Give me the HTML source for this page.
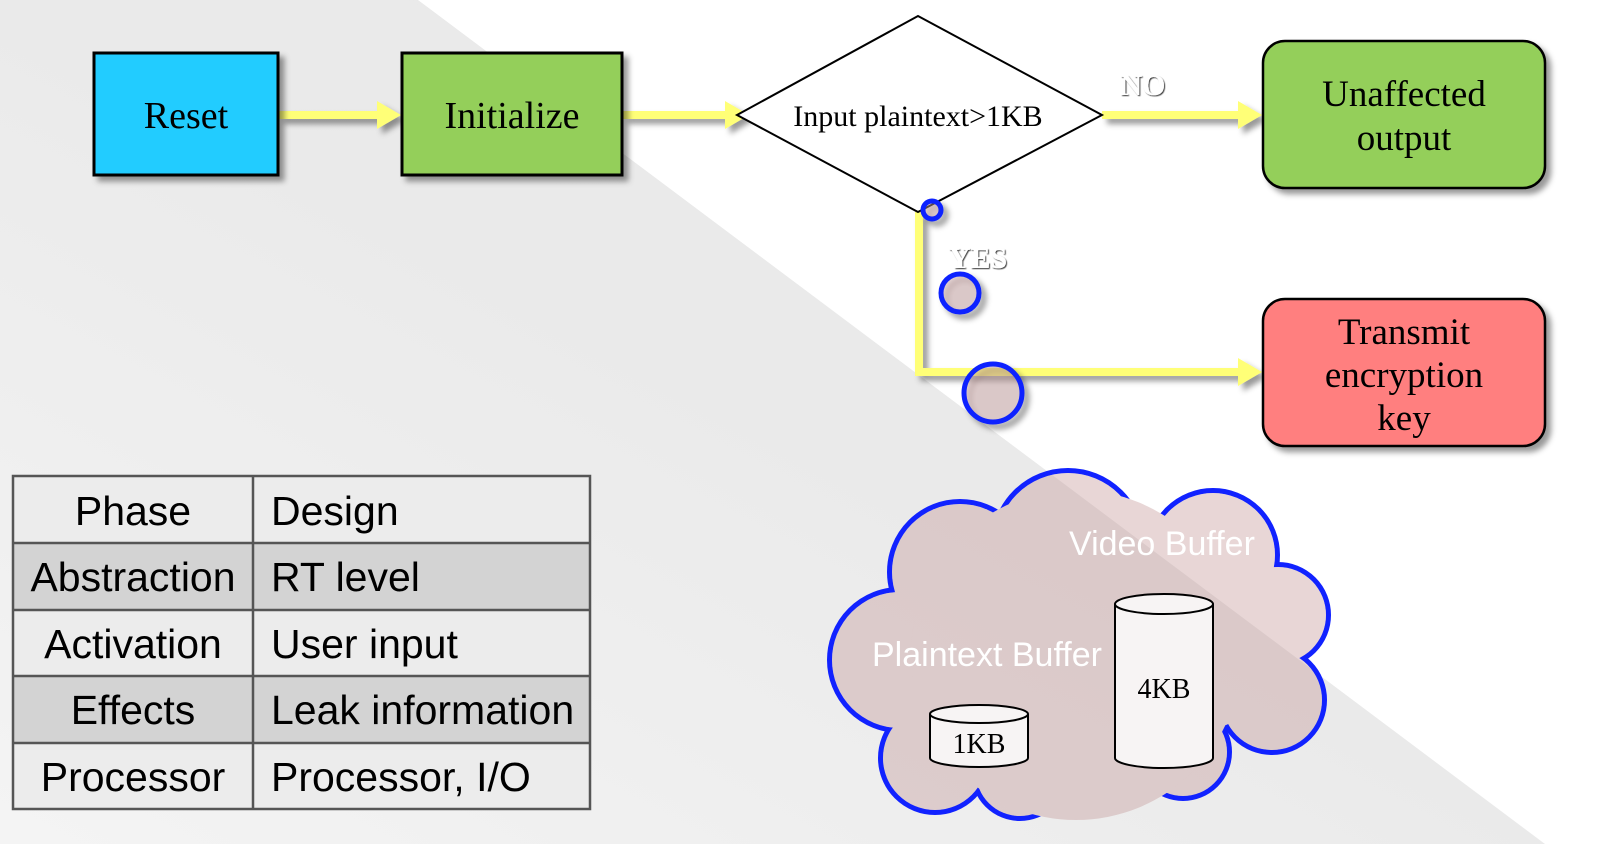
<!DOCTYPE html>
<html><head><meta charset="utf-8"><style>
html,body{margin:0;padding:0;width:1600px;height:844px;overflow:hidden;background:#fff}
svg{display:block}
.serif{font-family:"Liberation Serif",serif}
.sans{font-family:"Liberation Sans",sans-serif}
</style></head><body>
<svg width="1600" height="844" viewBox="0 0 1600 844" xmlns="http://www.w3.org/2000/svg">
<defs>
<linearGradient id="bg" x1="0" y1="1" x2="1" y2="0">
<stop offset="0" stop-color="#f4f4f4"/><stop offset="0.5" stop-color="#eaeaea"/><stop offset="1" stop-color="#e8e8e8"/>
</linearGradient>
<filter id="sh" x="-20%" y="-20%" width="140%" height="140%"><feDropShadow dx="5" dy="5" stdDeviation="3" flood-color="#000" flood-opacity="0.4"/></filter>
<filter id="ts"><feDropShadow dx="1" dy="1" stdDeviation="0.6" flood-color="#000" flood-opacity="0.8"/></filter>
<mask id="outside">
<rect width="1600" height="844" fill="#fff"/>
<g fill="#000">
<circle cx="960" cy="572" r="68"/><circle cx="1068" cy="545" r="72"/><circle cx="1213" cy="555" r="62"/>
<circle cx="1278" cy="615" r="48"/><circle cx="1272" cy="700" r="50"/><circle cx="1183" cy="752" r="44"/>
<circle cx="1100" cy="770" r="38"/><circle cx="1020" cy="772" r="44"/><circle cx="935" cy="758" r="52"/>
<circle cx="900" cy="660" r="68"/><circle cx="1076" cy="655" r="165"/><circle cx="1200" cy="660" r="70"/>
</g></mask>
</defs>
<rect width="1600" height="844" fill="url(#bg)"/>
<polygon points="418,0 1600,0 1600,844 1545,844" fill="#fff"/>
<g fill="#ffff77" filter="url(#sh)">
<rect x="279" y="111" width="100" height="8"/><polygon points="377,101 401,115 377,129"/>
<rect x="623" y="111" width="104" height="8"/><polygon points="725,101 749,115 725,129"/>
<rect x="1102" y="111" width="138" height="8"/><polygon points="1238,101 1262,115 1238,129"/>
<rect x="915" y="212" width="8" height="164"/>
<rect x="915" y="368" width="325" height="8"/><polygon points="1238,358 1262,372 1238,386"/>
</g>
<rect x="94" y="53" width="184" height="122" fill="#22ccff" stroke="#000" stroke-width="3" filter="url(#sh)"/>
<text x="186" y="128" class="serif" font-size="38" text-anchor="middle">Reset</text>
<rect x="402" y="53" width="220" height="122" fill="#94cf5a" stroke="#000" stroke-width="3" filter="url(#sh)"/>
<text x="512" y="128" class="serif" font-size="38" text-anchor="middle">Initialize</text>
<polygon points="737,115 918,16 1102,115 918,212" fill="#fff" stroke="#000" stroke-width="2"/>
<text x="918" y="126" class="serif" font-size="30" text-anchor="middle">Input plaintext&gt;1KB</text>
<text x="1143" y="95" class="serif" font-size="30" font-weight="bold" fill="#fff" text-anchor="middle" filter="url(#ts)">NO</text>
<text x="978" y="268" class="serif" font-size="30" font-weight="bold" fill="#fff" text-anchor="middle" filter="url(#ts)">YES</text>
<rect x="1263" y="41" width="282" height="147" rx="22" fill="#94cf5a" stroke="#000" stroke-width="2.5" filter="url(#sh)"/>
<text x="1404" y="106" class="serif" font-size="37" text-anchor="middle">Unaffected</text>
<text x="1404" y="150" class="serif" font-size="37" text-anchor="middle">output</text>
<rect x="1263" y="299" width="282" height="147" rx="22" fill="#ff7f7f" stroke="#000" stroke-width="2.5" filter="url(#sh)"/>
<text x="1404" y="344" class="serif" font-size="37" text-anchor="middle">Transmit</text>
<text x="1404" y="387" class="serif" font-size="37" text-anchor="middle">encryption</text>
<text x="1404" y="430" class="serif" font-size="37" text-anchor="middle">key</text>
<g fill="rgba(200,160,160,0.4)" stroke="#1122ff" stroke-width="5" filter="url(#sh)">
<circle cx="932" cy="210" r="9"/><circle cx="960" cy="293" r="19"/><circle cx="993" cy="393" r="29"/>
</g>
<g class="sans" font-size="41">
<rect x="13" y="476" width="577" height="67" fill="#ececec"/>
<rect x="13" y="543" width="577" height="67" fill="#d3d3d3"/>
<rect x="13" y="610" width="577" height="66" fill="#ececec"/>
<rect x="13" y="676" width="577" height="67" fill="#d3d3d3"/>
<rect x="13" y="743" width="577" height="66" fill="#ececec"/>
<g stroke="#555" stroke-width="2.5" fill="none">
<rect x="13" y="476" width="577" height="333"/>
<line x1="253" y1="476" x2="253" y2="809"/>
<line x1="13" y1="543" x2="590" y2="543"/><line x1="13" y1="610" x2="590" y2="610"/>
<line x1="13" y1="676" x2="590" y2="676"/><line x1="13" y1="743" x2="590" y2="743"/>
</g>
<g text-anchor="middle">
<text x="133" y="525">Phase</text><text x="133" y="591">Abstraction</text><text x="133" y="658">Activation</text>
<text x="133" y="724">Effects</text><text x="133" y="791">Processor</text>
</g>
<text x="271" y="525">Design</text><text x="271" y="591">RT level</text><text x="271" y="658">User input</text>
<text x="271" y="724">Leak information</text><text x="271" y="791">Processor, I/O</text>
</g>
<g mask="url(#outside)" fill="none" stroke="#1122ff" stroke-width="10">
<circle cx="960" cy="572" r="68"/><circle cx="1068" cy="545" r="72"/><circle cx="1213" cy="555" r="62"/>
<circle cx="1278" cy="615" r="48"/><circle cx="1272" cy="700" r="50"/><circle cx="1183" cy="752" r="44"/>
<circle cx="1100" cy="770" r="38"/><circle cx="1020" cy="772" r="44"/><circle cx="935" cy="758" r="52"/>
<circle cx="900" cy="660" r="68"/>
</g>
<g fill="rgb(195,150,150)" opacity="0.38">
<circle cx="960" cy="572" r="68"/><circle cx="1068" cy="545" r="72"/><circle cx="1213" cy="555" r="62"/>
<circle cx="1278" cy="615" r="48"/><circle cx="1272" cy="700" r="50"/><circle cx="1183" cy="752" r="44"/>
<circle cx="1100" cy="770" r="38"/><circle cx="1020" cy="772" r="44"/><circle cx="935" cy="758" r="52"/>
<circle cx="900" cy="660" r="68"/><circle cx="1076" cy="655" r="165"/><circle cx="1200" cy="660" r="70"/>
</g>
<text x="1069" y="555" class="sans" font-size="34" fill="#fff">Video Buffer</text>
<text x="872" y="666" class="sans" font-size="34" fill="#fff">Plaintext Buffer</text>
<g fill="#f7f4f4" stroke="#000" stroke-width="2">
<path d="M930,714 V758 A49,9 0 0 0 1028,758 V714"/>
<ellipse cx="979" cy="714" rx="49" ry="9"/>
<path d="M1115,604 V758 A49,10 0 0 0 1213,758 V604"/>
<ellipse cx="1164" cy="604" rx="49" ry="10"/>
</g>
<text x="979" y="753" class="serif" font-size="28" text-anchor="middle">1KB</text>
<text x="1164" y="698" class="serif" font-size="28" text-anchor="middle">4KB</text>
</svg>
</body></html>
